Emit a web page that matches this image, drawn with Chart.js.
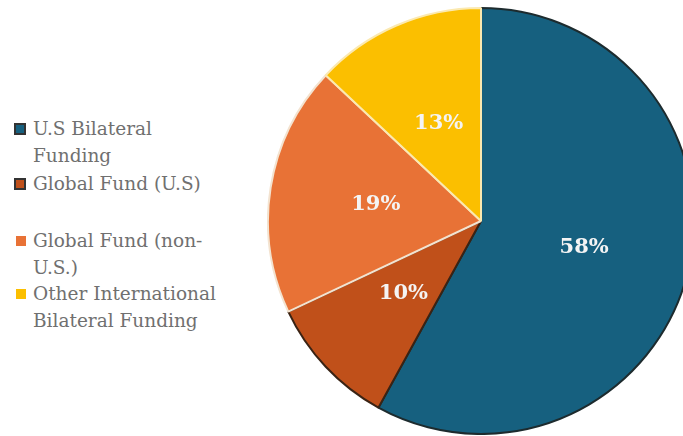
<!DOCTYPE html>
<html>
<head>
<meta charset="utf-8">
<script src="https://cdn.jsdelivr.net/npm/chart.js@4"></script>
<style>
  html, body { margin: 0; padding: 0; background: #fff; }
  body { width: 683px; height: 436px; overflow: hidden; position: relative; }
  #pie-wrap { position: absolute; left: 267px; top: 7px; width: 428px; height: 428px; }
  .leg { position: absolute; left: 14px; font-family: "DejaVu Serif", serif; font-size: 18.5px; color: #707070; line-height: 27px; }
  .leg span.box { position: absolute; left: 0; top: 8px; width: 12px; height: 12px; box-sizing: border-box; }
  .leg span.txt { display: block; margin-left: 19px; white-space: nowrap; }
</style>
</head>
<body>
<div id="pie-wrap"><canvas id="pie"></canvas></div>
<div id="legend"></div>
<script>
/* ── Data ── */
const LABELS  = [['U.S Bilateral', 'Funding'], ['Global Fund (U.S)'], ['Global Fund (non-', 'U.S.)'], ['Other International', 'Bilateral Funding']];
const VALUES  = [58, 10, 19, 13];
const COLORS  = ['#16607f', '#c0501a', '#e87236', '#fbbf00'];
const BORDERS = ['#1d2b2e', '#3a2314', '#f3e3d0', '#fbe9b0'];

/* ── HTML legend ── */
const legTops = [115, 170, 227, 280];
const legend = document.getElementById('legend');
LABELS.forEach((lines, i) => {
  const d = document.createElement('div');
  d.className = 'leg';
  d.style.top = legTops[i] + 'px';
  const bordered = i < 2;
  d.innerHTML = '<span class="box" style="background:' + COLORS[i] + ';' +
    (bordered ? 'border:2px solid #333;' : 'left:2px;top:9px;width:10px;height:10px;') + '"></span>' +
    '<span class="txt">' + lines.join('<br>') + '</span>';
  legend.appendChild(d);
});

/* ── Percent labels inside slices ── */
const pctLabels = {
  id: 'pctLabels',
  afterDatasetsDraw(chart) {
    const { ctx, data } = chart;
    const total = data.datasets[0].data.reduce((a, b) => a + b, 0);
    chart.getDatasetMeta(0).data.forEach((arc, i) => {
      const mid = (arc.startAngle + arc.endAngle) / 2;
      const r   = arc.outerRadius * 0.5;
      ctx.save();
      ctx.textAlign    = 'center';
      ctx.textBaseline = 'middle';
      ctx.fillStyle    = '#f4f4f4';
      ctx.font         = 'bold 21px "DejaVu Serif", serif';
      ctx.fillText(Math.round(data.datasets[0].data[i] / total * 100) + '%',
        arc.x + Math.cos(mid) * r, arc.y + Math.sin(mid) * r);
      ctx.restore();
    });
  },
};

new Chart(document.getElementById('pie'), {
  type: 'pie',
  plugins: [pctLabels],
  data: {
    labels: LABELS.map(l => l.join(' ')),
    datasets: [{
      data: VALUES,
      backgroundColor: COLORS,
      borderColor: BORDERS,
      borderWidth: 2,
    }],
  },
  options: {
    responsive: true,
    maintainAspectRatio: false,
    animation: false,
    layout: { padding: 0 },
    plugins: { legend: { display: false }, tooltip: { enabled: false } },
  },
});
</script>
</body>
</html>
